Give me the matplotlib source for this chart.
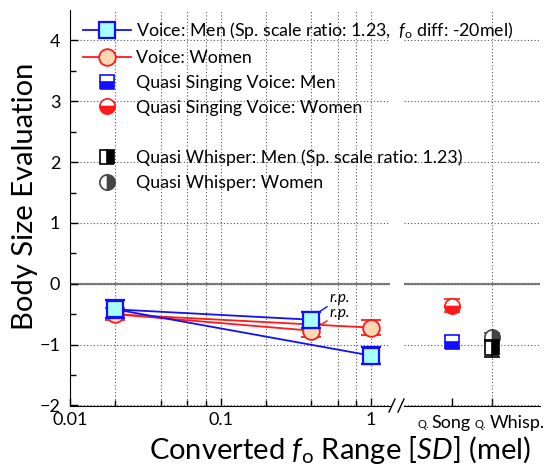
import matplotlib
matplotlib.use('Agg')
import matplotlib.pyplot as plt
from matplotlib.lines import Line2D
from matplotlib.ticker import FixedLocator, NullFormatter

plt.rcParams['font.family'] = ['Lato', 'DejaVu Sans']
plt.rcParams['mathtext.fontset'] = 'custom'
plt.rcParams['mathtext.rm'] = 'Lato'
plt.rcParams['mathtext.it'] = 'Lato:italic'

# converted fo range [SD]
f0_range = [0.02, 0.4, 1.0]
men_voice = [-0.42, -0.59, -1.18]
men_voice_err = [0.15, 0.13, 0.14]
women_voice = [-0.50, -0.77, -0.72]
women_voice_err = [0.10, 0.11, 0.12]

# quasi conditions on the categorical part of the axis
quasi_labels = ['Song', 'Whisp.']
song_men, song_men_err = -0.955, 0.10
song_women, song_women_err = -0.36, 0.11
whisp_men, whisp_men_err = -1.06, 0.14
whisp_women, whisp_women_err = -0.88, 0.07

blue = '#1010ff'
cyan = '#a8ffff'
red = '#ff1a1a'
peach = '#fdd8b4'

fig = plt.figure(figsize=(5.45, 4.66), dpi=100)
W, H = 545, 466
x0, x1, y0, y1 = 70, 390, 405.5, 10
ax1 = fig.add_axes([x0 / W, 1 - y0 / H, (x1 - x0) / W, (y0 - y1) / H])
ax2 = fig.add_axes([404 / W, 1 - y0 / H, (540 - 404) / W, (y0 - y1) / H], sharey=ax1)

ax1.set_xscale('log')
ax1.set_xlim(0.01, 1.337)
ax1.set_ylim(-2, 4.5)
ax2.set_xlim(-1.2, 2.2)

for ax in (ax1, ax2):
    ax.spines['top'].set_visible(False)
    ax.spines['right'].set_visible(False)
    ax.axhline(0, color='#808080', lw=1.6, zorder=1)
    ax.grid(axis='y', which='major', color='#555555', linestyle=(0, (1, 2)), lw=0.8)
    ax.tick_params(direction='in', which='both', labelsize=13, width=1)
    ax.tick_params(which='major', length=6)
    ax.tick_params(which='minor', length=4)
ax1.tick_params(axis='y', pad=7)
ax1.tick_params(axis='x', pad=5)
ax2.spines['left'].set_visible(False)
ax2.tick_params(axis='y', which='both', left=False, labelleft=False)

ax1.yaxis.set_major_locator(FixedLocator(range(-2, 5)))
ax1.yaxis.set_minor_locator(FixedLocator([-1.5, -0.5, 0.5, 1.5, 2.5, 3.5]))
ax1.xaxis.set_major_locator(FixedLocator([0.01, 0.1, 1]))
ax1.xaxis.set_minor_locator(FixedLocator([0.02, 0.04, 0.06, 0.08, 0.2, 0.4, 0.6, 0.8]))
ax1.xaxis.set_minor_formatter(NullFormatter())
ax1.set_xticklabels(['0.01', '0.1', '1'])
ax1.grid(axis='x', which='both', color='#555555', linestyle=(0, (1, 2)), lw=0.8)

ax2.set_xticks([0, 1])
ax2.set_xticklabels(['', ''])
ax2.axvline(1, color='#555555', linestyle=(0, (1, 2)), lw=0.8)

# voice: women (drawn first, squares sit on top)
for idx in ([0, 1], [0, 2]):
    ax1.plot([f0_range[i] for i in idx], [women_voice[i] for i in idx],
             color=red, lw=1.3, zorder=3)
ax1.errorbar(f0_range, women_voice, yerr=women_voice_err, fmt='o', ms=12,
             mfc=peach, mec=red, mew=1.3, ecolor=red, elinewidth=1.5,
             capsize=7, capthick=2, zorder=4)

# voice: men
for idx in ([0, 1], [0, 2]):
    ax1.plot([f0_range[i] for i in idx], [men_voice[i] for i in idx],
             color=blue, lw=1.3, zorder=5)
ax1.errorbar(f0_range, men_voice, yerr=men_voice_err, fmt='s', ms=11,
             mfc=cyan, mec=blue, mew=1.6, ecolor=blue, elinewidth=2,
             capsize=7, capthick=2.2, zorder=6)

# r.p. markers
ax1.annotate('r.p.', xy=(0.447, -0.472), xytext=(0.534, -0.23),
             fontsize=11, style='italic', va='center',
             arrowprops=dict(arrowstyle='-', color=blue, lw=1, shrinkA=0, shrinkB=0))
ax1.annotate('r.p.', xy=(0.470, -0.663), xytext=(0.534, -0.48),
             fontsize=11, style='italic', va='center',
             arrowprops=dict(arrowstyle='-', color=red, lw=1, shrinkA=0, shrinkB=0))

# quasi singing voice / quasi whisper
ax2.errorbar([0], [song_women], yerr=[song_women_err], fmt='o', ms=11,
             fillstyle='bottom', mfc=red, mfcalt='white', mec=red, mew=1.2,
             ecolor=red, elinewidth=1.2, capsize=6, capthick=1.5, zorder=4)
ax2.errorbar([0], [song_men], yerr=[song_men_err], fmt='s', ms=10,
             fillstyle='bottom', mfc=blue, mfcalt='white', mec=blue, mew=1.2,
             ecolor=blue, elinewidth=1.2, capsize=6, capthick=1.5, zorder=4)
ax2.errorbar([1], [whisp_women], yerr=[whisp_women_err], fmt='o', ms=11,
             fillstyle='right', mfc='#444444', mfcalt='white', mec='#444444', mew=1.2,
             ecolor='#444444', elinewidth=1.2, capsize=6, capthick=1.5, zorder=4)
ax2.errorbar([1], [whisp_men], yerr=[whisp_men_err], fmt='s', ms=10,
             fillstyle='right', mfc='black', mfcalt='white', mec='black', mew=1.2,
             ecolor='black', elinewidth=1.2, capsize=6, capthick=1.5, zorder=5)

# category labels: small "Q." prefix, offsets in points from the tick
label_offsets = [(-25, -14.5), (-12.5, -1.5)]
for pos, (name, (dq, dn)) in enumerate(zip(quasi_labels, label_offsets)):
    ax2.annotate('Q.', xy=(pos, 0), xycoords=('data', 'axes fraction'),
                 xytext=(dq, -16), textcoords='offset points', fontsize=8,
                 ha='left', va='baseline')
    ax2.annotate(name, xy=(pos, 0), xycoords=('data', 'axes fraction'),
                 xytext=(dn, -16), textcoords='offset points', fontsize=13,
                 ha='left', va='baseline')

# axis break marks
for dx in (-6, 3):
    fig.add_artist(Line2D([(395 + dx) / W, (401 + dx) / W],
                          [1 - 412 / H, 1 - 399 / H], color='black', lw=1))

fig.text(25 / W, 1 - 196 / H, 'Body Size Evaluation', rotation=90,
         fontsize=21, ha='center', va='center')
fig.text(340 / W, 1 - 450 / H, r'Converted $f_\mathrm{o}$ Range [$SD$] (mel)',
         fontsize=21, ha='center', va='center')

handles = [
    Line2D([], [], color=blue, marker='s', ms=11, mfc=cyan, mec=blue, mew=1.6, lw=1.3),
    Line2D([], [], color=red, marker='o', ms=12, mfc=peach, mec=red, mew=1.3, lw=1.3),
    Line2D([], [], ls='none', marker='s', ms=10, fillstyle='bottom', mfc=blue,
           mfcalt='white', mec=blue, mew=1.2),
    Line2D([], [], ls='none', marker='o', ms=11, fillstyle='bottom', mfc=red,
           mfcalt='white', mec=red, mew=1.2),
    Line2D([], [], ls='none'),
    Line2D([], [], ls='none', marker='s', ms=10, fillstyle='right', mfc='black',
           mfcalt='white', mec='black', mew=1.2),
    Line2D([], [], ls='none', marker='o', ms=11, fillstyle='right', mfc='#444444',
           mfcalt='white', mec='#444444', mew=1.2),
]
labels = [
    r'Voice: Men (Sp. scale ratio: 1.23,  $f_\mathrm{o}$ diff: -20mel)',
    'Voice: Women',
    'Quasi Singing Voice: Men',
    'Quasi Singing Voice: Women',
    ' ',
    'Quasi Whisper: Men (Sp. scale ratio: 1.23)',
    'Quasi Whisper: Women',
]
fig.legend(handles, labels, loc='upper left', bbox_to_anchor=(83 / W, 1 - 20 / H),
           frameon=False, fontsize=12.8, handlelength=2.7, handletextpad=0.3,
           labelspacing=0.5, borderpad=0, borderaxespad=0)

fig.savefig('out.png', dpi=100)
